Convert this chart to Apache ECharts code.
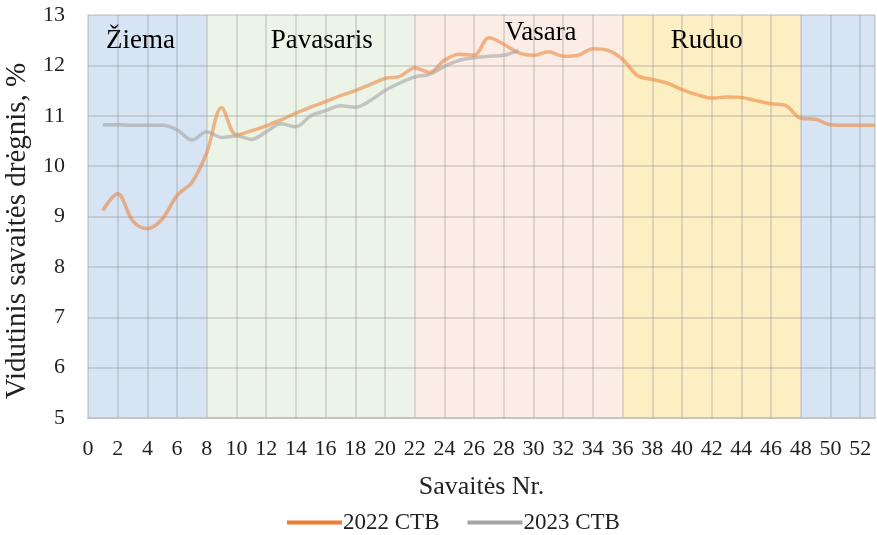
<!DOCTYPE html>
<html>
<head>
<meta charset="utf-8">
<script src="https://cdn.jsdelivr.net/npm/echarts@6/dist/echarts.min.js"></script>
<style>
  html, body { margin: 0; padding: 0; background: #fff; }
  #chart { width: 877px; height: 535px; }
</style>
</head>
<body>
<div id="chart"></div>
<script>
// savaitės ir vidutinis drėgnis
const weeks2022 = [1,2,3,4,5,6,7,8,9,10,11,12,13,14,15,16,17,18,19,20,21,22,23,24,25,26,27,28,29,30,31,32,33,34,35,36,37,38,39,40,41,42,43,44,45,46,47,48,49,50,51,52,53];
const ctb2022 = [9.12,9.45,8.92,8.76,8.95,9.42,9.68,10.27,11.16,10.62,10.7,10.8,10.92,11.05,11.17,11.28,11.4,11.5,11.62,11.74,11.78,11.95,11.86,12.1,12.22,12.2,12.55,12.42,12.25,12.2,12.27,12.18,12.2,12.33,12.3,12.12,11.8,11.72,11.65,11.52,11.42,11.35,11.37,11.36,11.3,11.24,11.2,10.95,10.93,10.82,10.81,10.81,10.81];
const weeks2023 = [1,2,3,4,5,6,7,8,9,10,11,12,13,14,15,16,17,18,19,20,21,22,23,24,25,26,27,28,29];
const ctb2023 = [10.82,10.82,10.81,10.81,10.81,10.72,10.52,10.68,10.57,10.6,10.53,10.68,10.84,10.78,11.0,11.1,11.2,11.17,11.3,11.5,11.65,11.77,11.82,11.98,12.1,12.15,12.18,12.2,12.3];

// metų laikai
const seasonNames = ["Žiema", "Pavasaris", "Vasara", "Ruduo", ""];
const seasonStart = [0, 8, 22, 36, 48];
const seasonEnd = [8, 22, 36, 48, 53];
const seasonColors = ["#d6e4f3", "#ecf4e7", "#fbede5", "#fdefc4", "#d6e4f3"];
const seasonLabelOffset = [[-7, 0], [11, 0], [22, -8], [-5, 0], [0, 0]];

const serif = "Liberation Serif";

const chart = echarts.init(document.getElementById("chart"));

const bands = seasonNames.map((name, i) => [
  {
    name,
    xAxis: seasonStart[i],
    itemStyle: { color: seasonColors[i] },
    label: { offset: seasonLabelOffset[i] }
  },
  { xAxis: seasonEnd[i] }
]);

const gridLine = { show: true, lineStyle: { color: "rgba(140,140,140,0.28)", width: 2 } };

chart.setOption({
  animation: false,
  textStyle: { fontFamily: serif },
  grid: { left: 88, right: 2, top: 15, bottom: 117, containLabel: false, outerBoundsMode: "none" },
  legend: {
    top: 506,
    left: 282,
    itemWidth: 55,
    itemHeight: 4,
    itemGap: 28,
    icon: "rect",
    textStyle: { fontFamily: serif, fontSize: 23, color: "#222", padding: [0, 0, 0, -4] },
    data: ["2022 CTB", "2023 CTB"]
  },
  xAxis: {
    type: "value",
    min: 0,
    max: 53,
    interval: 2,
    name: "Savaitės Nr.",
    nameLocation: "middle",
    nameGap: 56,
    nameTextStyle: { fontFamily: serif, fontSize: 26, color: "#222" },
    axisLine: { show: true, lineStyle: { color: "#c4c4c4", width: 2 } },
    axisTick: { show: false },
    axisLabel: { fontFamily: serif, fontSize: 22, color: "#222", margin: 20, showMaxLabel: false },
    splitLine: gridLine
  },
  yAxis: {
    type: "value",
    min: 5,
    max: 13,
    interval: 1,
    name: "Vidutinis savaitės drėgnis, %    ",
    nameLocation: "middle",
    nameGap: 56,
    nameTextStyle: { fontFamily: serif, fontSize: 29, color: "#222" },
    axisLine: { show: false },
    axisTick: { show: false },
    axisLabel: { fontFamily: serif, fontSize: 22, color: "#222", margin: 23 },
    splitLine: gridLine
  },
  series: [
    {
      name: "seasons",
      type: "line",
      data: [],
      silent: true,
      markArea: {
        silent: true,
        z: -1,
        label: {
          show: true,
          position: "insideTop",
          distance: 12,
          fontFamily: serif,
          fontSize: 27,
          color: "#000"
        },
        data: bands
      }
    },
    {
      name: "2022 CTB",
      type: "line",
      smooth: 0.35,
      showSymbol: false,
      color: "#ed7d31",
      lineStyle: { width: 3.5, opacity: 0.55 },
      data: weeks2022.map((w, i) => [w, ctb2022[i]])
    },
    {
      name: "2023 CTB",
      type: "line",
      smooth: 0.35,
      showSymbol: false,
      color: "#a5a5a5",
      lineStyle: { width: 3.5, opacity: 0.6 },
      data: weeks2023.map((w, i) => [w, ctb2023[i]])
    }
  ]
});

window.addEventListener("resize", () => chart.resize());
</script>
</body>
</html>
